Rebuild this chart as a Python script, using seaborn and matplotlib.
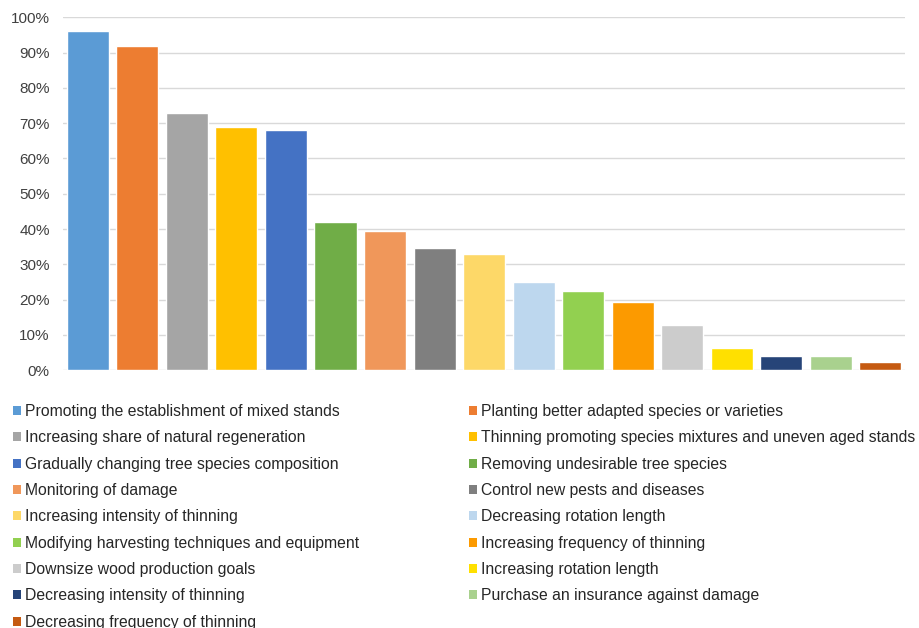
import matplotlib
matplotlib.use("Agg")
import matplotlib.pyplot as plt
import matplotlib.patches as mpatches
from matplotlib.ticker import PercentFormatter
import seaborn as sns

measures = [
    "Promoting the establishment of mixed stands",
    "Planting better adapted species or varieties",
    "Increasing share of natural regeneration",
    "Thinning promoting species mixtures and uneven aged stands",
    "Gradually changing tree species composition",
    "Removing undesirable tree species",
    "Monitoring of damage",
    "Control new pests and diseases",
    "Increasing intensity of thinning",
    "Decreasing rotation length",
    "Modifying harvesting techniques and equipment",
    "Increasing frequency of thinning",
    "Downsize wood production goals",
    "Increasing rotation length",
    "Decreasing intensity of thinning",
    "Purchase an insurance against damage",
    "Decreasing frequency of thinning",
]
shares = [0.96, 0.92, 0.73, 0.69, 0.68, 0.42, 0.395, 0.347, 0.33, 0.25,
          0.225, 0.193, 0.128, 0.063, 0.041, 0.041, 0.024]
colors = ["#5B9BD5", "#ED7D31", "#A5A5A5", "#FFC000", "#4472C4", "#70AD47",
          "#F0975A", "#7F7F7F", "#FDD868", "#BDD7EE", "#92D050", "#FC9A00",
          "#CCCCCC", "#FFE000", "#264478", "#A9D18E", "#C55A11"]
y_ticks = [0.0, 0.1, 0.2, 0.3, 0.4, 0.5, 0.6, 0.7, 0.8, 0.9, 1.0]

sns.set_theme(style="white")
plt.rcParams["font.family"] = ["Liberation Sans", "DejaVu Sans"]

fig = plt.figure(figsize=(9.19, 6.28), dpi=100)
ax = fig.add_axes([0.0686, 0.4104, 0.9164, 0.5621])

sns.barplot(x=measures, y=shares, hue=measures, palette=colors,
            legend=False, width=0.85, saturation=1, ax=ax)

ax.set_xlim(-0.5, len(measures) - 0.5)
ax.set_ylim(0, 1.0)
ax.set_yticks(y_ticks)
ax.yaxis.set_major_formatter(PercentFormatter(1.0, decimals=0))
ax.set_xticks([])
ax.set_xlabel("")
ax.set_ylabel("")
ax.tick_params(axis="y", length=0, pad=9.5, labelsize=11, labelcolor="#404040")
ax.yaxis.grid(True, color="#D9D9D9", linewidth=1.0)
ax.set_axisbelow(True)
for side in ["left", "right", "top", "bottom"]:
    ax.spines[side].set_visible(False)

handles = [mpatches.Patch(facecolor=c, edgecolor="none", label=m)
           for m, c in zip(measures, colors)]
legend_kw = dict(frameon=False, fontsize=11.35, handlelength=0.5,
                 handleheight=0.5, handletextpad=0.25, labelspacing=0.72,
                 borderaxespad=0, borderpad=0, labelcolor="#262626")
fig.legend(handles=handles[0::2], loc="upper left",
           bbox_to_anchor=(13 / 919, 1 - 404 / 628), **legend_kw)
fig.legend(handles=handles[1::2], loc="upper left",
           bbox_to_anchor=(469 / 919, 1 - 404 / 628), **legend_kw)

fig.savefig("out.png", dpi=100, facecolor="white")
